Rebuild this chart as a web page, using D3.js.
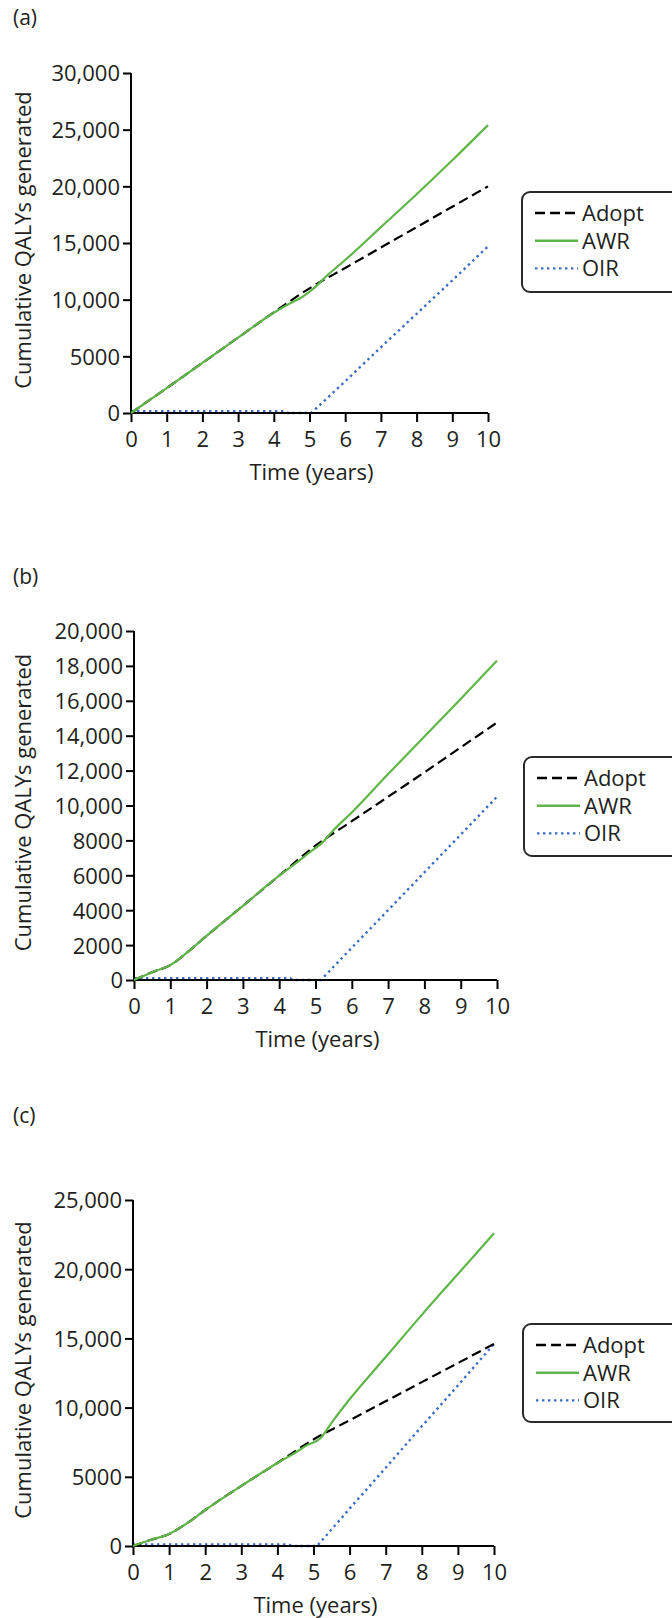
<!DOCTYPE html>
<html>
<head>
<meta charset="utf-8">
<script src="https://cdn.jsdelivr.net/npm/d3@7"></script>
<style>
  html, body { margin: 0; padding: 0; background: #fff; }
  svg { display: block; }
  text { font-family: "Open Sans", "Noto Sans", sans-serif; fill: #231f20; }
</style>
</head>
<body>
<svg id="chart" width="672" height="1618"></svg>
<script>
// ---------------- DATA ----------------
const seriesNames = ["Adopt", "AWR", "OIR"];
const panelLabels = ["(a)", "(b)", "(c)"];
const xTicks = [0, 1, 2, 3, 4, 5, 6, 7, 8, 9, 10];
const yTicksA = [0, 5000, 10000, 15000, 20000, 25000, 30000];
const yTicksB = [0, 2000, 4000, 6000, 8000, 10000, 12000, 14000, 16000, 18000, 20000];
const yTicksC = [0, 5000, 10000, 15000, 20000, 25000];
const xTitle = "Time (years)";
const yTitle = "Cumulative QALYs generated";

// Panel (a)
const aAdoptT = [0, 1, 2, 3, 4, 5, 6, 7, 8, 9, 10];
const aAdopt  = [0, 2200, 4420, 6650, 8880, 11000, 12800, 14600, 16400, 18200, 20000];
const aAwrT   = [0, 1, 2, 3, 4, 4.5, 4.8, 5.1, 5.5, 6, 7, 8, 9, 10];
const aAwr    = [0, 2200, 4420, 6650, 8850, 9750, 10250, 10950, 12150, 13500, 16400, 19300, 22300, 25400];
const aOirT   = [0, 4.3, 4.4, 5.05, 6, 7, 8, 9, 10];
const aOir    = [150, 150, 0, 0, 2800, 5800, 8750, 11700, 14700];

// Panel (b)
const bAdoptT = [0, 0.5, 1, 1.5, 2, 3, 4, 5, 6, 7, 8, 9, 10];
const bAdopt  = [0, 450, 850, 1640, 2530, 4250, 5980, 7700, 9100, 10500, 11900, 13330, 14750];
const bAwrT   = [0, 0.5, 1, 1.5, 2, 3, 4, 4.5, 4.8, 5.2, 5.5, 6, 7, 8, 9, 10];
const bAwr    = [0, 450, 850, 1640, 2530, 4250, 5980, 6750, 7250, 7900, 8600, 9600, 11800, 13950, 16100, 18300];
const bOirT   = [0, 4.3, 4.4, 5.15, 6, 7, 8, 9, 10];
const bOir    = [100, 100, 0, 0, 1850, 4000, 6170, 8330, 10500];

// Panel (c)
const cAdoptT = [0, 0.5, 1, 1.5, 2, 3, 4, 5, 6, 7, 8, 9, 10];
const cAdopt  = [0, 450, 870, 1650, 2600, 4340, 6000, 7700, 9080, 10460, 11840, 13220, 14600];
const cAwrT   = [0, 0.5, 1, 1.5, 2, 3, 4, 4.5, 4.8, 5.2, 5.5, 6, 7, 8, 9, 10];
const cAwr    = [0, 450, 870, 1650, 2600, 4340, 6000, 6750, 7250, 7800, 8900, 10600, 13650, 16700, 19650, 22600];
const cOirT   = [0, 4.3, 4.4, 5.1, 6, 7, 8, 9, 10];
const cOir    = [120, 120, 0, 0, 2700, 5650, 8650, 11600, 14600];

// ---------------- STYLE ----------------
const colors = { Adopt: "#000000", AWR: "#5fb548", OIR: "#3a6cc4" };
const dashes = { Adopt: "10,5", AWR: null, OIR: "2.4,3.6" };
const FONT = 22;

const panels = [
  { label: panelLabels[0], labelY: 25, x0: 131, x1: 488, y0: 413, y1: 73, yMax: 30000, yTicks: yTicksA,
    legend: { x: 522, y: 192, h: 100 },
    series: { Adopt: [aAdoptT, aAdopt], AWR: [aAwrT, aAwr], OIR: [aOirT, aOir] } },
  { label: panelLabels[1], labelY: 584, x0: 134, x1: 497, y0: 980, y1: 631, yMax: 20000, yTicks: yTicksB,
    legend: { x: 524, y: 757, h: 99 },
    series: { Adopt: [bAdoptT, bAdopt], AWR: [bAwrT, bAwr], OIR: [bOirT, bOir] } },
  { label: panelLabels[2], labelY: 1123, x0: 133, x1: 494, y0: 1546, y1: 1200, yMax: 25000, yTicks: yTicksC,
    legend: { x: 523, y: 1324, h: 98 },
    series: { Adopt: [cAdoptT, cAdopt], AWR: [cAwrT, cAwr], OIR: [cOirT, cOir] } }
];

const svg = d3.select("#chart");
const fmt = v => v >= 10000 ? d3.format(",")(v) : String(v);

panels.forEach(p => {
  const g = svg.append("g");
  const x = d3.scaleLinear().domain([0, 10]).range([p.x0, p.x1]);
  const y = d3.scaleLinear().domain([0, p.yMax]).range([p.y0, p.y1]);

  // panel label
  g.append("text").attr("x", 13).attr("y", p.labelY)
    .attr("font-size", 21).text(p.label);

  const smooth = d3.line().x(d => x(d[0])).y(d => y(d[1])).curve(d3.curveMonotoneX);
  const straight = d3.line().x(d => x(d[0])).y(d => y(d[1]));
  const pts = name => p.series[name][0].map((t, i) => [t, p.series[name][1][i]]);

  // OIR drawn under the axis
  g.append("path").datum(pts("OIR")).attr("d", straight)
    .attr("fill", "none").attr("stroke", colors.OIR).attr("stroke-width", 2.4)
    .attr("stroke-dasharray", dashes.OIR);

  // axes
  const xAxis = d3.axisBottom(x).tickValues(xTicks).tickSize(9).tickPadding(5).tickFormat(d3.format("d"));
  const yAxis = d3.axisLeft(y).tickValues(p.yTicks).tickSize(8).tickPadding(3).tickFormat(fmt);

  const gx = g.append("g").attr("transform", `translate(0,${p.y0})`).call(xAxis);
  const gy = g.append("g").attr("transform", `translate(${p.x0},0)`).call(yAxis);
  [gx, gy].forEach(a => {
    a.select(".domain").attr("stroke", "#000").attr("stroke-width", 2);
    a.selectAll(".tick line").attr("stroke", "#000").attr("stroke-width", 2);
    a.selectAll(".tick text").attr("font-size", FONT).attr("fill", "#231f20")
      .attr("font-family", "'Open Sans', 'Noto Sans', sans-serif");
  });
  gx.select(".domain").attr("d", `M${p.x0},0H${p.x1}`);
  gy.select(".domain").attr("d", `M0,${p.y0}V${p.y1}`);
  gx.selectAll(".tick text").attr("dy", null).attr("y", 34);
  gy.selectAll(".tick text").attr("dy", "0.36em");

  // Adopt and AWR lines
  ["Adopt", "AWR"].forEach(name => {
    g.append("path").datum(pts(name)).attr("d", smooth)
      .attr("fill", "none").attr("stroke", colors[name]).attr("stroke-width", 2.2)
      .attr("stroke-dasharray", dashes[name]);
  });

  // axis titles
  g.append("text").attr("x", (p.x0 + p.x1) / 2 + 2).attr("y", p.y0 + 67)
    .attr("text-anchor", "middle").attr("font-size", FONT).text(xTitle);
  const yc = (p.y0 + p.y1) / 2 - 3;
  g.append("text").attr("transform", `translate(31,${yc}) rotate(-90)`)
    .attr("text-anchor", "middle").attr("font-size", FONT).text(yTitle);

  // legend
  const L = p.legend;
  g.append("rect").attr("x", L.x).attr("y", L.y).attr("width", 200).attr("height", L.h)
    .attr("rx", 8).attr("fill", "#fff").attr("stroke", "#2a2a2a").attr("stroke-width", 2);
  seriesNames.forEach((name, i) => {
    const cy = L.y + 21 + i * 27.7;
    g.append("line").attr("x1", L.x + 13).attr("x2", L.x + 56).attr("y1", cy).attr("y2", cy)
      .attr("stroke", colors[name]).attr("stroke-width", 2.4)
      .attr("stroke-dasharray", dashes[name]);
    g.append("text").attr("x", L.x + 60).attr("y", cy + 8)
      .attr("font-size", FONT).text(name);
  });
});
</script>
</body>
</html>
